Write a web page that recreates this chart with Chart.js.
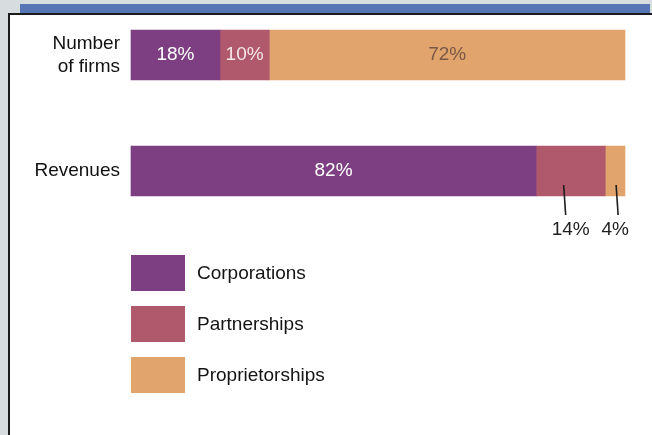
<!DOCTYPE html>
<html>
<head>
<meta charset="utf-8">
<script src="https://cdn.jsdelivr.net/npm/chart.js@4/dist/chart.umd.min.js"></script>
<style>
  html, body { margin: 0; padding: 0; background: #d7dddf; }
  #wrap { position: relative; width: 652px; height: 435px; overflow: hidden; background: #d7dddf; }
  .strip { position: absolute; left: 20px; top: 4px; width: 630px; height: 10px; background: #5676b4; }
  .panel { position: absolute; left: 8px; top: 13px; width: 644px; height: 430px; background: #fff;
           border-left: 2px solid #1b1b1b; border-top: 2px solid #1b1b1b; }
  canvas { position: absolute; left: 0; top: 0; }
</style>
</head>
<body>
<div id="wrap">
  <div class="strip"></div>
  <div class="panel"></div>
  <canvas id="chart" width="652" height="435"></canvas>
</div>
<script>
// Share of U.S. business firms and revenues by form of organization (%)
const categories = [["Number", "of firms"], "Revenues"];
const seriesNames = ["Corporations", "Partnerships", "Proprietorships"];
const corporations = [18, 82];
const partnerships = [10, 14];
const proprietorships = [72, 4];

const seriesColors = ["#7d3f81", "#b0596c", "#e1a46c"];
const insideTextColors = ["#ffffff", "#f6e6ea", "#7a5846"];
const FONT = "'Liberation Sans', Arial, Helvetica, sans-serif";

// Segment labels: drawn centred inside the bar, or below it with a leader line
const valueLabels = {
  id: "valueLabels",
  afterDatasetsDraw(chart, args, opts) {
    const ctx = chart.ctx;
    ctx.save();
    ctx.font = "19px " + FONT;
    ctx.textAlign = "center";
    ctx.textBaseline = "middle";
    chart.data.datasets.forEach((ds, di) => {
      const meta = chart.getDatasetMeta(di);
      meta.data.forEach((bar, i) => {
        const text = ds.data[i] + "%";
        const cx = (bar.x + bar.base) / 2;
        const callout = opts.callouts.find(c => c.category === i && c.series === di);
        if (callout) {
          const bottom = bar.y + bar.height / 2;
          ctx.strokeStyle = "#1e1e1e";
          ctx.lineWidth = 1.6;
          ctx.beginPath();
          ctx.moveTo(cx + callout.dx, bottom - 11);
          ctx.lineTo(cx + callout.dx + 2, bottom + 19);
          ctx.stroke();
          ctx.fillStyle = "#1e1e1e";
          ctx.fillText(text, cx, bottom + 34);
        } else {
          ctx.fillStyle = insideTextColors[di];
          ctx.fillText(text, cx, bar.y);
        }
      });
    });
    ctx.restore();
  }
};

// Legend: stacked swatches with the series names to their right
const swatchLegend = {
  id: "swatchLegend",
  afterDraw(chart, args, opts) {
    const ctx = chart.ctx;
    ctx.save();
    ctx.font = "19px " + FONT;
    ctx.textAlign = "left";
    ctx.textBaseline = "middle";
    chart.data.datasets.forEach((ds, di) => {
      const y = opts.top + di * opts.step;
      ctx.fillStyle = ds.backgroundColor;
      ctx.fillRect(opts.left, y, opts.boxWidth, opts.boxHeight);
      ctx.fillStyle = "#141414";
      ctx.fillText(ds.label, opts.left + opts.boxWidth + 12, y + opts.boxHeight / 2 + 1);
    });
    ctx.restore();
  }
};

const seriesValues = [corporations, partnerships, proprietorships];

new Chart(document.getElementById("chart"), {
  type: "bar",
  data: {
    labels: categories,
    datasets: seriesNames.map((name, k) => ({
      label: name,
      data: seriesValues[k],
      backgroundColor: seriesColors[k],
      borderWidth: 0,
      barThickness: 50,
      clip: false
    }))
  },
  options: {
    indexAxis: "y",
    responsive: false,
    animation: false,
    devicePixelRatio: 1,
    layout: { padding: { left: 0, right: 27, top: 55, bottom: 264 } },
    scales: {
      x: { stacked: true, min: 0, max: 100, display: false },
      y: {
        stacked: true,
        offset: false,
        grid: { display: false, drawTicks: false },
        border: { display: false },
        ticks: { padding: 11, color: "#111111", font: { family: FONT, size: 19, lineHeight: 1.2 } },
        afterFit(scale) { scale.width = 131; }
      }
    },
    plugins: {
      legend: { display: false },
      tooltip: { enabled: false },
      valueLabels: {
        callouts: [
          { category: 1, series: 1, dx: -7 },
          { category: 1, series: 2, dx: 1 }
        ]
      },
      swatchLegend: { left: 131, top: 255, step: 51, boxWidth: 54, boxHeight: 36 }
    }
  },
  plugins: [valueLabels, swatchLegend]
});
</script>
</body>
</html>
